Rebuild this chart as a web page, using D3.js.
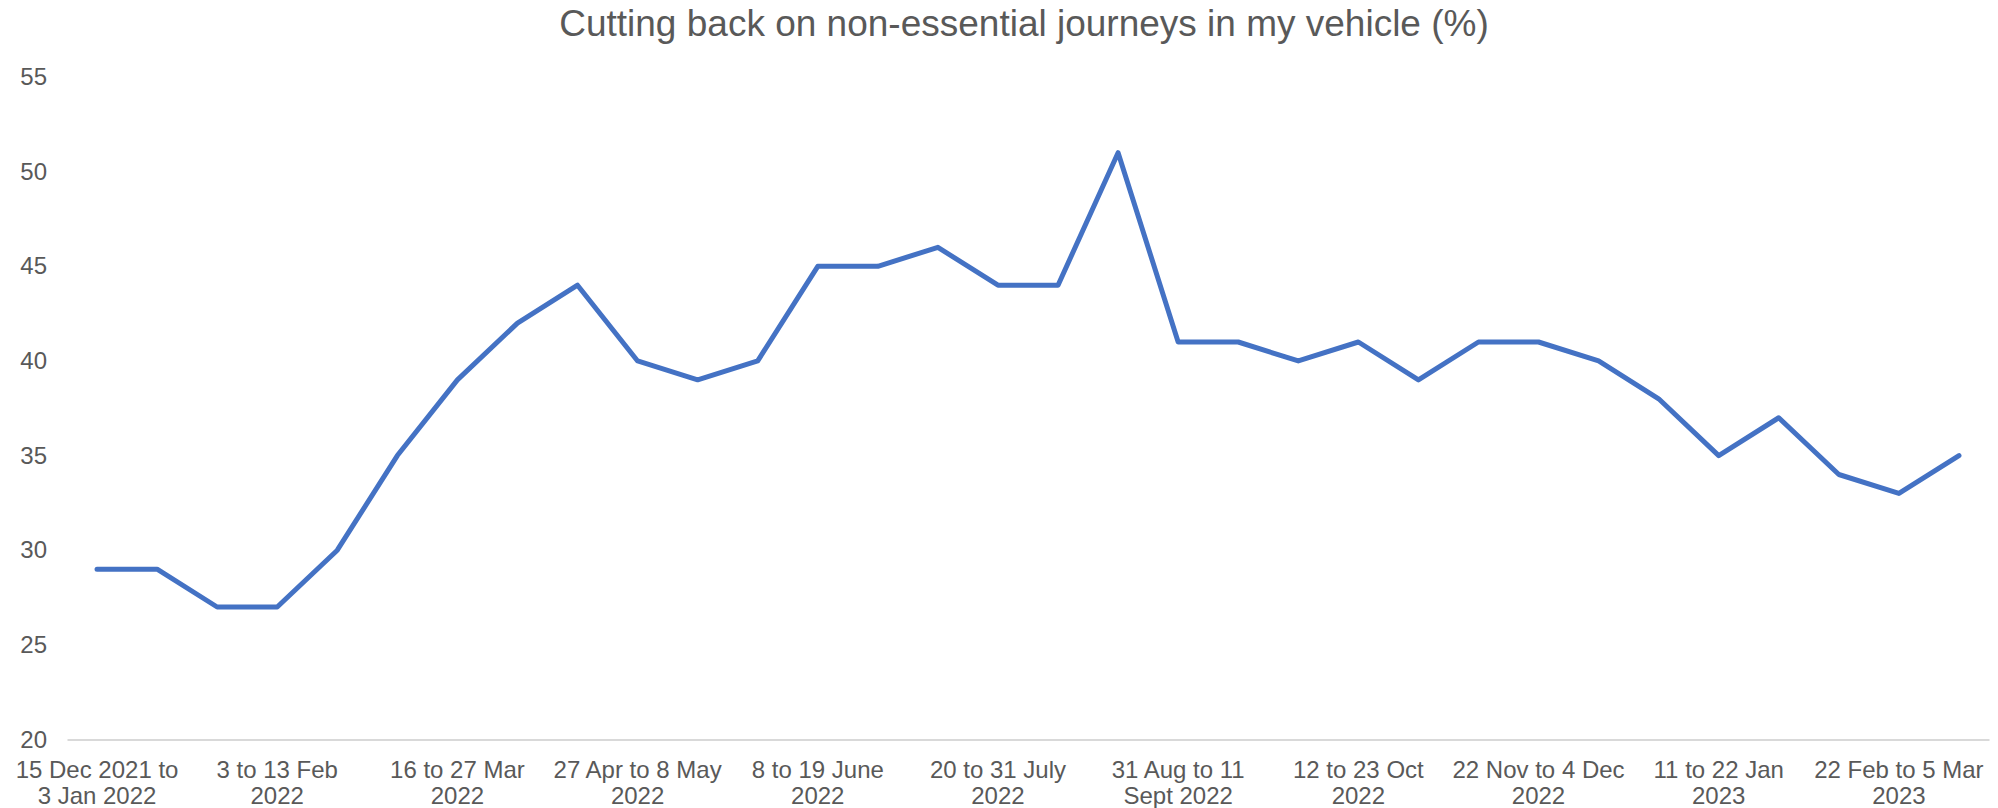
<!DOCTYPE html>
<html>
<head>
<meta charset="utf-8">
<script src="https://cdn.jsdelivr.net/npm/d3@7"></script>
<style>
  html, body { margin: 0; padding: 0; background: #fff; }
  svg { display: block; font-family: "Liberation Sans", Arial, sans-serif; }
</style>
</head>
<body>
<svg id="chart" width="1998" height="808"></svg>
<script>
const title = "Cutting back on non-essential journeys in my vehicle (%)";

const categories = [
  "15 Dec 2021 to 3 Jan 2022", "12 to 16 Jan 2022", "19 to 30 Jan 2022",
  "3 to 13 Feb 2022", "16 to 27 Feb 2022", "2 to 13 Mar 2022",
  "16 to 27 Mar 2022", "30 Mar to 10 Apr 2022", "13 to 24 Apr 2022",
  "27 Apr to 8 May 2022", "11 to 22 May 2022", "25 May to 5 June 2022",
  "8 to 19 June 2022", "22 June to 3 July 2022", "6 to 17 July 2022",
  "20 to 31 July 2022", "3 to 14 Aug 2022", "17 to 29 Aug 2022",
  "31 Aug to 11 Sept 2022", "14 to 25 Sept 2022", "28 Sept to 9 Oct 2022",
  "12 to 23 Oct 2022", "26 Oct to 6 Nov 2022", "9 to 20 Nov 2022",
  "22 Nov to 4 Dec 2022", "7 to 18 Dec 2022", "21 Dec 2022 to 8 Jan 2023",
  "11 to 22 Jan 2023", "25 Jan to 5 Feb 2023", "8 to 19 Feb 2023",
  "22 Feb to 5 Mar 2023", "8 to 19 Mar 2023"
];

const values = [29, 29, 27, 27, 30, 35, 39, 42, 44, 40, 39, 40, 45, 45, 46, 44,
                44, 51, 41, 41, 40, 41, 39, 41, 41, 40, 38, 35, 37, 34, 33, 35];

// tick labels shown on the x axis (category index -> two-line label)
const xTickIndex = [0, 3, 6, 9, 12, 15, 18, 21, 24, 27, 30];
const xTickLabels = [
  ["15 Dec 2021 to", "3 Jan 2022"],
  ["3 to 13 Feb", "2022"],
  ["16 to 27 Mar", "2022"],
  ["27 Apr to 8 May", "2022"],
  ["8 to 19 June", "2022"],
  ["20 to 31 July", "2022"],
  ["31 Aug to 11", "Sept 2022"],
  ["12 to 23 Oct", "2022"],
  ["22 Nov to 4 Dec", "2022"],
  ["11 to 22 Jan", "2023"],
  ["22 Feb to 5 Mar", "2023"]
];

const yTicks = [20, 25, 30, 35, 40, 45, 50, 55];

const svg = d3.select("#chart");
const plotLeft = 67, plotRight = 1989, plotTop = 77, plotBottom = 739.5;

const x = d3.scaleBand().domain(categories).range([plotLeft, plotRight]).paddingInner(0).paddingOuter(0);
const y = d3.scaleLinear().domain([20, 55]).range([plotBottom, plotTop]);

// title
svg.append("text")
  .attr("x", 1024).attr("y", 36)
  .attr("text-anchor", "middle")
  .attr("fill", "#595959")
  .style("font-size", "37px")
  .text(title);

// y axis labels
const yAxis = d3.axisLeft(y).tickValues(yTicks).tickSize(0).tickPadding(0);
const yg = svg.append("g").attr("transform", "translate(47,0)").call(yAxis);
yg.select(".domain").remove();
yg.selectAll("text").attr("fill", "#595959").style("font-size", "24px")
  .style("font-family", "'Liberation Sans', Arial, sans-serif");

// x axis line
const xAxis = d3.axisBottom(x).tickValues([]).tickSize(0).tickSizeOuter(0);
const xg = svg.append("g").attr("transform", `translate(0,${plotBottom})`).call(xAxis);
xg.select(".domain").attr("stroke", "#D9D9D9").attr("stroke-width", 2);

// x tick labels
const lbl = svg.append("g");
xTickIndex.forEach((idx, i) => {
  const cx = x(categories[idx]) + x.bandwidth() / 2;
  const t = lbl.append("text")
    .attr("x", cx).attr("y", 778)
    .attr("text-anchor", "middle")
    .attr("fill", "#595959")
    .style("font-size", "24px");
  xTickLabels[i].forEach((line, j) => {
    t.append("tspan").attr("x", cx).attr("dy", j === 0 ? 0 : 26).text(line);
  });
});

// line
const line = d3.line()
  .x((d, i) => x(categories[i]) + x.bandwidth() / 2)
  .y(d => y(d));

svg.append("path")
  .datum(values)
  .attr("fill", "none")
  .attr("stroke", "#4472C4")
  .attr("stroke-width", 5)
  .attr("stroke-linejoin", "round")
  .attr("stroke-linecap", "round")
  .attr("d", line);
</script>
</body>
</html>
